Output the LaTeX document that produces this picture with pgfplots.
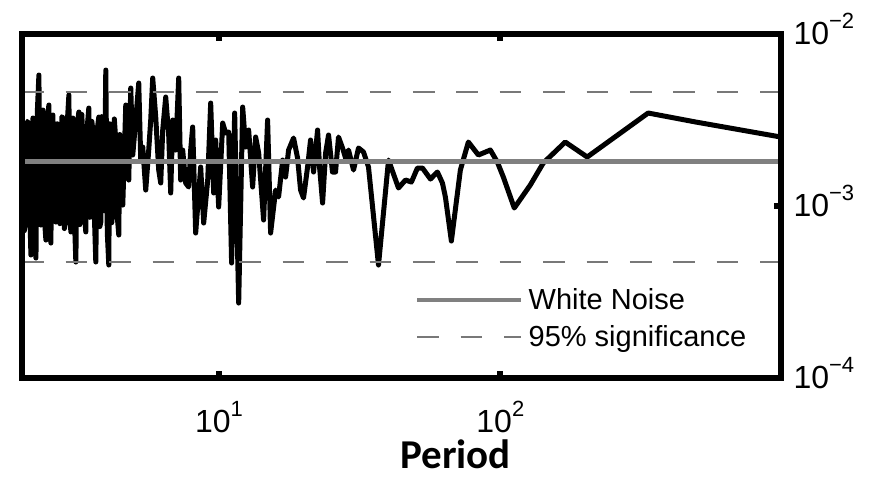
\documentclass[border=0pt]{standalone}
\usepackage{fontspec}
\setmainfont{Liberation Sans}
\newfontfamily\periodfont{Carlito}
\usepackage{pgfplots}
\pgfplotsset{compat=1.18}
\definecolor{wn}{RGB}{128,128,128}
\definecolor{sig}{RGB}{120,120,120}
\newcommand{\tlab}[2]{{\fontsize{32}{32}\selectfont #1\raisebox{16pt}{\fontsize{22}{22}\selectfont #2}}}

\begin{document}
\begin{tikzpicture}
\begin{axis}[
  scale only axis, width=758.4pt, height=344.6pt,
  xmode=log, ymode=log,
  xmin=2, xmax=992, ymin=1e-4, ymax=1e-2,
  axis on top,
  axis line style={line width=6pt},
  xtick={10,100}, xticklabels={\tlab{10}{1},\tlab{10}{2}},
  ytick={1e-4,1e-3,1e-2}, yticklabels={\tlab{10}{−4},\tlab{10}{−3},\tlab{10}{−2}},
  xminorticks=false, yminorticks=false,
  tick align=inside, major tick length=7pt,
  every tick/.style={black, line width=6pt},
  ytick pos=right, yticklabel pos=right,
  xticklabel style={anchor=base, inner sep=0pt, yshift=-54pt},
  yticklabel style={anchor=base west, inner sep=0pt, xshift=12.6pt, yshift=-10.5pt},
  xlabel={\periodfont\bfseries\fontsize{41}{41}\selectfont Period},
  xlabel style={at={(rel axis cs:0.5,0)}, anchor=base, yshift=-90pt, xshift=54pt, inner sep=0pt},
  legend style={draw=none, fill=none, at={(rel axis cs:0.5175,0.266)}, anchor=north west,
    inner sep=0pt, row sep=10pt, column sep=3pt, font=\fontsize{29}{30}\selectfont},
  legend cell align=left,
  legend image code/.code={\draw[#1] (0pt,0pt) -- (104pt,0pt);},
]
% periodogram
\addplot[black, line width=5pt, line join=round, forget plot] coordinates {
(2.011,2.416e-3) (2.035,7.2e-4) (2.060,8.867e-4) (2.085,3.1e-3) (2.111,2.952e-3) (2.128,9.0e-4) (2.146,5.195e-4) (2.164,2.6e-3) (2.182,3.241e-3)
(2.209,7.5e-4) (2.236,4.991e-4) (2.263,3.6e-3) (2.291,5.758e-3) (2.310,1.0e-3) (2.329,7.757e-4) (2.348,2.9e-3) (2.367,3.607e-3) (2.396,8.5e-4) (2.426,6.348e-4)
(2.456,3.2e-3) (2.486,3.856e-3) (2.506,7.0e-4) (2.527,6.099e-4) (2.548,2.8e-3) (2.569,3.374e-3) (2.600,9.5e-4) (2.632,8.07e-4) (2.665,3.0e-3) (2.698,2.836e-3)
(2.720,7.9e-4) (2.742,9.23e-4) (2.765,3.3e-3) (2.788,3.241e-3) (2.822,7.4e-4) (2.857,8.294e-4) (2.892,3.1e-3) (2.928,4.407e-3) (2.952,9.0e-4) (2.976,7.07e-4)
(3.000,2.7e-3) (3.025,3.241e-3) (3.062,8.8e-4) (3.100,4.731e-4) (3.138,3.0e-3) (3.177,3.512e-3) (3.203,7.8e-4) (3.229,9.479e-4) (3.255,3.4e-3) (3.282,2.351e-3)
(3.322,9.3e-4) (3.363,7.07e-4) (3.405,2.9e-3) (3.447,3.704e-3) (3.475,8.6e-4) (3.504,1.013e-3) (3.533,3.1e-3) (3.562,2.761e-3) (3.606,9.0e-4) (3.650,4.731e-4)
(3.695,2.8e-3) (3.741,3.285e-3) (3.772,7.6e-4) (3.802,8.07e-4) (3.834,3.3e-3) (3.865,3.073e-3) (3.913,9.4e-4) (3.961,6.155e-3) (4.010,7.0e-4) (4.059,4.545e-4)
(4.092,3.0e-3) (4.126,2.836e-3) (4.160,8.0e-4) (4.194,9.479e-4) (4.246,3.2e-3) (4.298,2.416e-3) (4.351,8.7e-4) (4.405,6.787e-4) (4.441,2.6e-3) (4.477,1.849e-3)
(4.551,1.013e-3) (4.664,3.856e-3) (4.779,1.415e-3) (4.858,4.840e-3) (4.938,1.977e-3)
(5.061,3.156e-3) (5.186,5.175e-3) (5.272,1.849e-3) (5.359,2.200e-3) (5.492,1.238e-3)
(5.628,2.113e-3) (5.721,3.156e-3) (5.815,5.532e-3) (5.960,3.285e-3) (6.107,1.618e-3)
(6.209,1.360e-3) (6.311,2.761e-3) (6.468,4.291e-3) (6.628,2.583e-3) (6.737,1.190e-3)
(6.849,3.156e-3) (7.019,2.113e-3) (7.193,5.532e-3) (7.311,1.415e-3) (7.432,2.113e-3)
(7.616,1.360e-3) (7.805,1.289e-3) (7.934,2.113e-3) (8.064,2.874e-3) (8.264,6.971e-4)
(8.610,1.684e-3) (8.824,7.968e-4) (9.120,1.415e-3) (9.344,3.960e-3) (9.577,1.190e-3)
(9.734,2.416e-3) (9.975,9.867e-4) (10.31,3.031e-3) (10.56,2.653e-3) (10.83,2.689e-3)
(11.09,4.668e-4) (11.37,3.465e-3) (11.75,2.735e-4) (12.14,3.754e-3) (12.44,2.200e-3)
(12.75,2.761e-3) (13.17,1.289e-3) (13.50,2.515e-3) (13.84,2.030e-3) (14.41,8.294e-4)
(14.89,3.156e-3) (15.26,6.971e-4) (15.90,1.238e-3) (16.29,1.128e-3) (16.84,1.849e-3)
(17.25,1.473e-3) (17.68,2.113e-3) (18.42,2.481e-3) (19.03,1.900e-3) (19.50,1.238e-3)
(19.98,1.113e-3) (20.65,1.684e-3) (21.16,2.416e-3) (21.69,1.575e-3) (22.41,2.761e-3)
(22.78,1.684e-3) (23.35,1.041e-3) (23.93,2.030e-3) (24.52,2.583e-3) (25.32,1.575e-3)
(25.96,1.575e-3) (26.60,2.515e-3) (27.49,2.171e-3) (28.18,1.900e-3) (28.87,2.113e-3)
(30.08,1.618e-3) (31.33,2.171e-3) (32.64,2.058e-3) (34.00,1.684e-3) (36.90,4.545e-4)
(40.05,1.849e-3) (43.46,1.272e-3) (46.01,1.415e-3) (48.31,1.378e-3) (50.74,1.662e-3)
(52.86,1.662e-3) (56.44,1.434e-3) (59.76,1.575e-3) (62.26,1.360e-3) (63.80,1.128e-3)
(66.99,6.264e-4) (72.11,1.618e-3) (76.98,2.351e-3) (83.55,1.977e-3) (92.15,2.113e-3)
(97.57,1.800e-3) (102.5,1.473e-3) (112.1,9.736e-4) (127.8,1.324e-3) (142.1,1.776e-3)
(170.1,2.351e-3) (203.6,1.925e-3) (335.3,3.465e-3) (496.3,3.07e-3) (992,2.515e-3)
};
% white noise level
\addplot[wn, line width=4.7pt] coordinates {(2,1.81e-3) (992,1.81e-3)};
\addlegendentry{White Noise}
% 95% significance
\addplot[sig, line width=2pt, dash pattern=on 21.7pt off 21.7pt] coordinates {(2,4.60e-3) (992,4.60e-3)};
\addlegendentry{95\% significance}
\addplot[sig, line width=2pt, dash pattern=on 21.7pt off 21.7pt, forget plot] coordinates {(2,4.75e-4) (992,4.75e-4)};
\end{axis}
\pgfresetboundingbox
\useasboundingbox (-22.3pt,-101.7pt) rectangle (849.7pt,378.3pt);
\end{tikzpicture}
\end{document}
